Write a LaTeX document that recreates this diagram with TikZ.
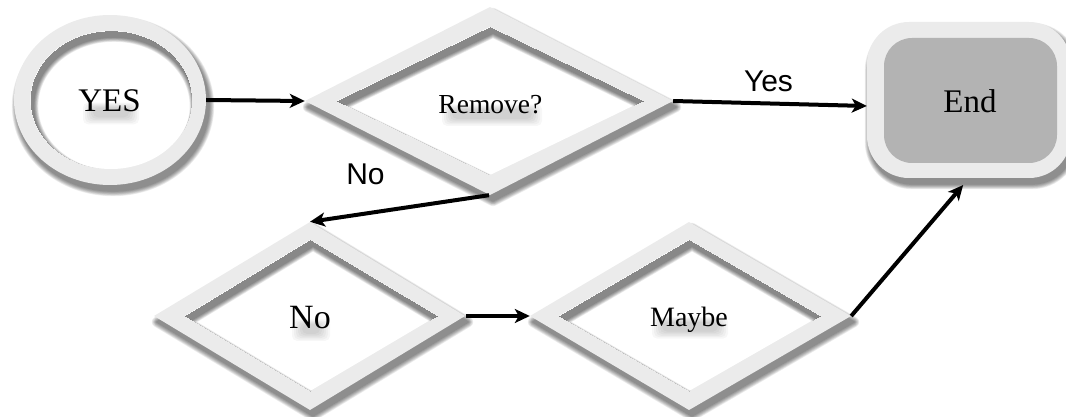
\documentclass[tikz,border=0pt]{standalone}
\usepackage{fontspec}
\setmainfont{Liberation Serif}
\newfontfamily\arialf{Liberation Sans}
\usetikzlibrary{arrows.meta,calc,shapes.geometric}
\definecolor{ringc}{HTML}{EBEBEB}
\definecolor{endc}{HTML}{B3B3B3}

\newcommand\OuterShadow[1]{%
  \foreach \r in {1,...,8}{%
    \begin{scope}[transparency group, opacity=0.07, shift={(3,6)}]
      \path[fill=black, draw=black, line width=\r*1.3pt, line join=round] #1;
    \end{scope}}}
\newcommand\InnerShadow[1]{%
  \begin{scope}
    \clip #1;
    \foreach \r in {1,...,8}{%
      \begin{scope}[transparency group, opacity=0.075, shift={(3,6)}]
        \path[fill=black, even odd rule] (-200,-200) rectangle (1300,700) #1;
        \path[draw=black, line width=\r*1.2pt] #1;
      \end{scope}}
  \end{scope}}
\newcommand\RingShape[3]{%
  \OuterShadow{#1}%
  \path[fill=ringc] #1;
  \path[fill=#3] #2;}
% soft smudge under a text: x centre, y baseline, half width
\newcommand\Smudge[3]{%
  \foreach \r in {1,...,6}{%
    \fill[black, opacity=0.03, rounded corners=5pt]
      (#1-#3+\r*2, #2-10+\r) rectangle (#1+#3-\r*2, #2+14-\r*1.4);}}

\tikzset{
  shapenode/.style={inner sep=0pt, draw=none},
  maintext/.style={anchor=base, inner sep=0pt, text=black},
  lab/.style={anchor=base, inner sep=0pt, font=\arialf\fontsize{30}{34}\selectfont},
  arr/.style={line width=4pt, -{Stealth[length=15pt,width=14pt,inset=4pt]}},
}

\begin{document}
\begin{tikzpicture}[x=1pt,y=-1pt]
\useasboundingbox (0,0) rectangle (1066,417);

% ---------- YES circle
\RingShape{(110,100) ellipse [x radius=96, y radius=85]}{(111,100) ellipse [x radius=80.5, y radius=69]}{white}
\InnerShadow{(111,100) ellipse [x radius=80.5, y radius=69]}
\node[shapenode, ellipse, minimum width=192pt, minimum height=170pt] (yes) at (110,100) {};

% ---------- Remove? diamond
\RingShape{(305,101) -- (490,7) -- (673,101) -- (490,195) -- cycle}{(337,101) -- (490,27) -- (643,101) -- (490,175) -- cycle}{white}
\InnerShadow{(337,101) -- (490,27) -- (643,101) -- (490,175) -- cycle}
\node[shapenode, diamond, minimum width=368pt, minimum height=188pt] (remove) at (489,101) {};

% ---------- End rounded rectangle
\RingShape{[rounded corners=42pt] (867,22) rectangle (1071,178)}{[rounded corners=28pt] (884,38) rectangle (1057,163)}{endc}
\node[shapenode, rectangle, minimum width=204pt, minimum height=156pt] (end) at (969,100) {};

% ---------- No diamond
\RingShape{(154,316) -- (310,222) -- (465,316) -- (310,410) -- cycle}{(185,316) -- (310,240) -- (437,316) -- (310,391) -- cycle}{white}
\InnerShadow{(185,316) -- (310,240) -- (437,316) -- (310,391) -- cycle}
\node[shapenode, diamond, minimum width=311pt, minimum height=188pt] (no) at (310,316) {};

% ---------- Maybe diamond
\RingShape{(530,316) -- (689,222) -- (851,316) -- (689,410) -- cycle}{(559,316) -- (689,240) -- (820,316) -- (689,391) -- cycle}{white}
\InnerShadow{(559,316) -- (689,240) -- (820,316) -- (689,391) -- cycle}
\node[shapenode, diamond, minimum width=321pt, minimum height=188pt] (maybe) at (690.5,316) {};

% ---------- texts with soft shadows
\Smudge{111}{111.7}{30}
\node[maintext, font=\fontsize{33}{36}\selectfont] (tyes) at (109.5,111.7) {YES};

\Smudge{492}{113.3}{52}
\node[maintext, font=\fontsize{27.5}{30}\selectfont] (tremove) at (490.4,113.3) {Remove?};

\node[maintext, font=\fontsize{33}{36}\selectfont] (tend) at (970,112.7) {End};

\Smudge{311}{328.3}{21}
\node[maintext, font=\fontsize{34}{37}\selectfont] (tno) at (310,328.3) {No};

\Smudge{690}{326}{40}
\node[maintext, font=\fontsize{28}{31}\selectfont] (tmaybe) at (689,326) {Maybe};

% ---------- connectors
\draw[arr] (yes.east) -- (remove.west);
\draw[arr] (remove.east) -- ($(end.west)+(0,6)$);
\draw[arr] (remove.south) -- (no.north);
\draw[arr] (no.east) -- (maybe.west);
\draw[arr, shorten >=9pt] (maybe.east) -- (end.south);

% ---------- edge labels
\node[lab] (lyes) at (768.5,91.7) {Yes};
\node[lab] (lno) at (365.5,185) {No};
\end{tikzpicture}
\end{document}
